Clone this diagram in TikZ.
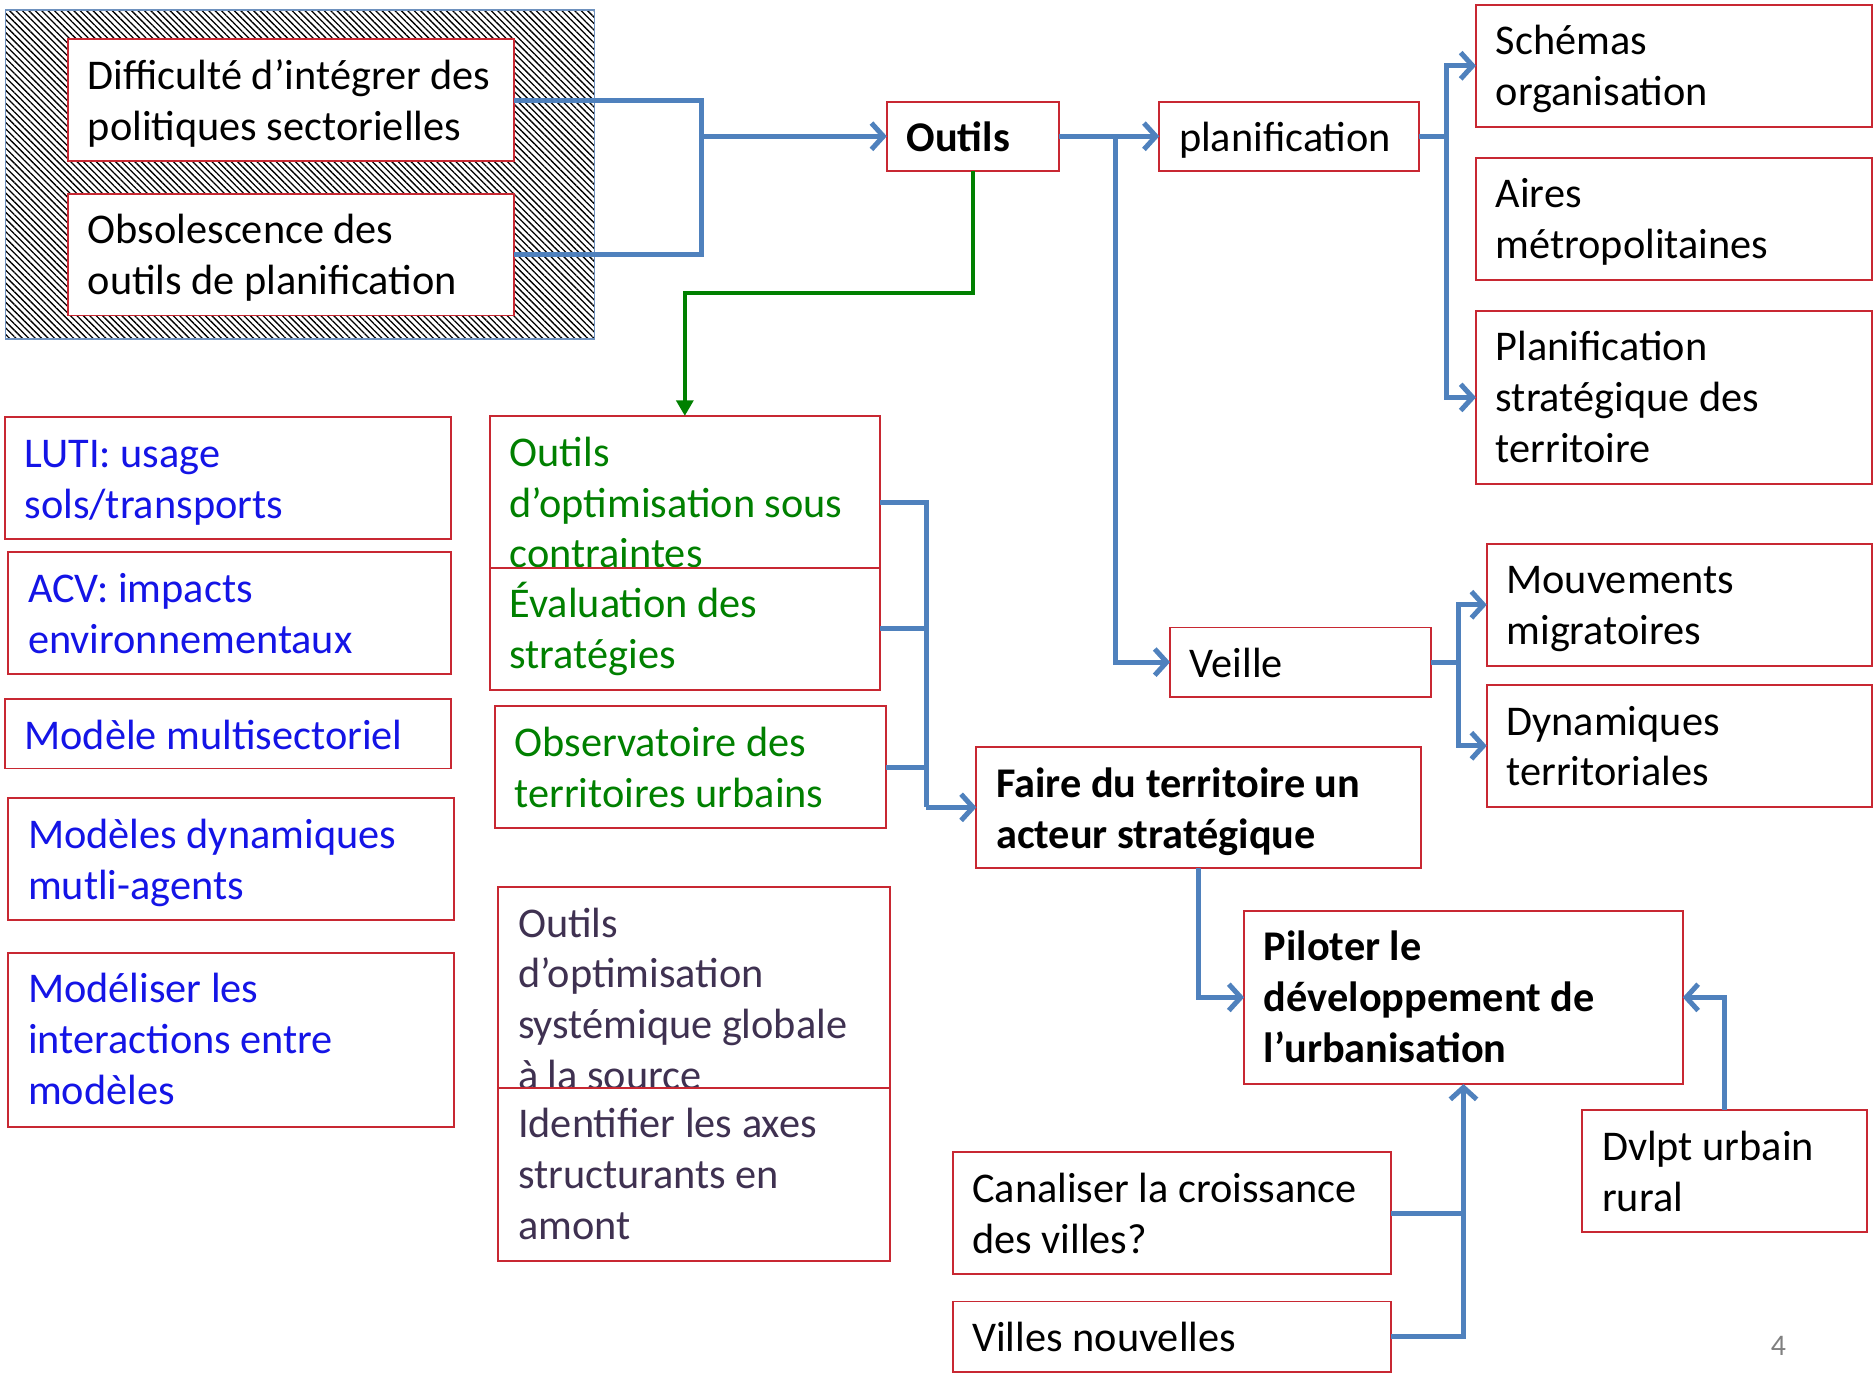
\documentclass[tikz,border=0pt]{standalone}
\usepackage{fontspec}
\setmainfont{Carlito}
\usetikzlibrary{arrows.meta,patterns.meta}

\definecolor{boxred}{RGB}{200,40,50}
\definecolor{connblue}{RGB}{79,129,189}
\definecolor{conngreen}{RGB}{0,128,0}
\definecolor{txtblue}{RGB}{20,20,230}
\definecolor{txtgreen}{RGB}{0,128,0}
\definecolor{txtgrey}{RGB}{63,49,81}
\definecolor{framegrey}{RGB}{110,145,190}

% box of fixed size, text from the top left corner
\newcommand\cellbox[3]{\parbox[t][#2pt][t]{#1pt}{\raggedright\leftskip=16.5pt\rule{0pt}{42pt}#3}}

\tikzset{
  cell/.style={draw=boxred, fill=white, line width=1.6pt, inner sep=0pt, outer sep=0pt,
    anchor=north west, font=\fontsize{35.4}{42.6}\selectfont},
  bluecell/.style={cell, text=txtblue},
  greencell/.style={cell, text=txtgreen},
  greycell/.style={cell, text=txtgrey},
  boldcell/.style={cell, font=\fontsize{35.4}{42.6}\selectfont\bfseries},
  conn/.style={draw=connblue, line width=4.2pt},
  arr/.style={conn, -{Straight Barb[length=10pt,width=22pt]}},
  garr/.style={draw=conngreen, line width=3.8pt, -{Triangle[length=13pt,width=14pt]}},
}

\begin{document}
\begin{tikzpicture}[x=1pt,y=-1pt]
  \useasboundingbox (0,0) rectangle (1568,1151);

  % hatched frame of the problems
  \node[draw=framegrey, line width=1.4pt, pattern={Lines[angle=-45,distance=3.8pt,line width=1.1pt]},
    pattern color=black, minimum width=493pt, minimum height=275pt, anchor=north west,
    inner sep=0pt] (probs) at (4,8) {};
  \node[cell] (diff) at (57,33) {\cellbox{373}{102}{Difficulté d’intégrer des\\politiques sectorielles}};
  \node[cell] (obs) at (57,162) {\cellbox{373}{102}{Obsolescence des\\outils de planification}};

  % tools
  \node[boldcell] (outils) at (742,85) {\cellbox{144}{58}{Outils}};
  \node[cell] (planif) at (970,85) {\cellbox{217}{58}{planification}};
  \node[cell] (schemas) at (1235,4) {\cellbox{331}{102}{Schémas\\organisation}};
  \node[cell] (aires) at (1235,132) {\cellbox{331}{102}{Aires\\métropolitaines}};
  \node[cell] (planstrat) at (1235,260) {\cellbox{331}{145}{Planification\\stratégique des\\territoire}};
  \node[cell] (veille) at (979,525) {\cellbox{218}{58}{Veille}};
  \node[cell] (mouv) at (1244,455) {\cellbox{322}{102}{Mouvements\\migratoires}};
  \node[cell] (dyn) at (1244,573) {\cellbox{322}{102}{Dynamiques\\territoriales}};

  % models
  \node[bluecell] (luti) at (4,349) {\cellbox{373}{102}{LUTI: usage\\sols/transports}};
  \node[bluecell] (acv) at (7,462) {\cellbox{370}{102}{ACV: impacts\\environnementaux}};
  \node[bluecell] (multi) at (4,585) {\cellbox{373}{58}{Modèle multisectoriel}};
  \node[bluecell] (agents) at (7,668) {\cellbox{373}{102}{Modèles dynamiques\\mutli-agents}};
  \node[bluecell] (interac) at (7,797) {\cellbox{373}{146}{Modéliser les\\interactions entre\\modèles}};

  % optimisation
  \node[greencell] (optim) at (410,348) {\cellbox{326}{127}{Outils\\d’optimisation sous\\contraintes}};
  \node[greencell] (eval) at (410,475) {\cellbox{326}{102}{Évaluation des\\stratégies}};
  \node[greencell] (obsv) at (414,591) {\cellbox{327}{102}{Observatoire des\\territoires urbains}};
  \node[greycell] (syst) at (417,742) {\cellbox{328}{168}{Outils\\d’optimisation\\systémique globale\\à la source}};
  \node[greycell] (axes) at (417,910) {\cellbox{328}{145}{Identifier les axes\\structurants en\\amont}};

  % urbanisation
  \node[boldcell] (faire) at (817,625) {\cellbox{372}{101}{Faire du territoire un\\acteur stratégique}};
  \node[boldcell] (pilot) at (1041,762) {\cellbox{367}{145}{Piloter le\\développement de\\l’urbanisation}};
  \node[cell] (dvlpt) at (1324,929) {\cellbox{238}{102}{Dvlpt urbain\\rural}};
  \node[cell] (canal) at (797,964) {\cellbox{367}{102}{Canaliser la croissance\\des villes?}};
  \node[cell] (villes) at (797,1089) {\cellbox{367}{59}{Villes nouvelles}};

  \node[text=gray, font=\fontsize{25}{30}\selectfont] (pagenum) at (1488,1126) {4};

  % connectors
  \coordinate (jprob) at (587,114);
  \draw[conn] (diff.east) -| (jprob) |- (obs.east);
  \draw[arr] (jprob) -- (outils.west);
  \coordinate (jout) at (933,114);
  \draw[arr] (outils.east) -- (planif.west);
  \draw[arr] (jout) |- (veille.west);
  \coordinate (jplan) at (1210,114);
  \draw[conn] (planif.east) -- (jplan);
  \draw[arr] (jplan) |- (schemas.west);
  \draw[arr] (jplan) |- (planstrat.west);
  \coordinate (jveille) at (1220,554);
  \draw[conn] (veille.east) -- (jveille);
  \draw[arr] (jveille) |- (mouv.west);
  \draw[arr] (jveille) |- (dyn.west);
  \draw[garr] (outils.south) -- ++(0,102) -| (optim.north);
  \coordinate (jgreen) at (775,675.5);
  \draw[conn] ([yshift=-9pt]optim.east) -| (jgreen);
  \draw[conn] (eval.east) -- (eval.east -| jgreen);
  \draw[conn] (obsv.east) -- (obsv.east -| jgreen);
  \draw[arr] (jgreen) -- (faire.west);
  \draw[arr] (faire.south) |- (pilot.west);
  \draw[arr] (villes.east) -| (pilot.south);
  \draw[conn] (canal.east) -- (canal.east -| pilot.south);
  \draw[arr] (dvlpt.north) |- (pilot.east);
\end{tikzpicture}
\end{document}
